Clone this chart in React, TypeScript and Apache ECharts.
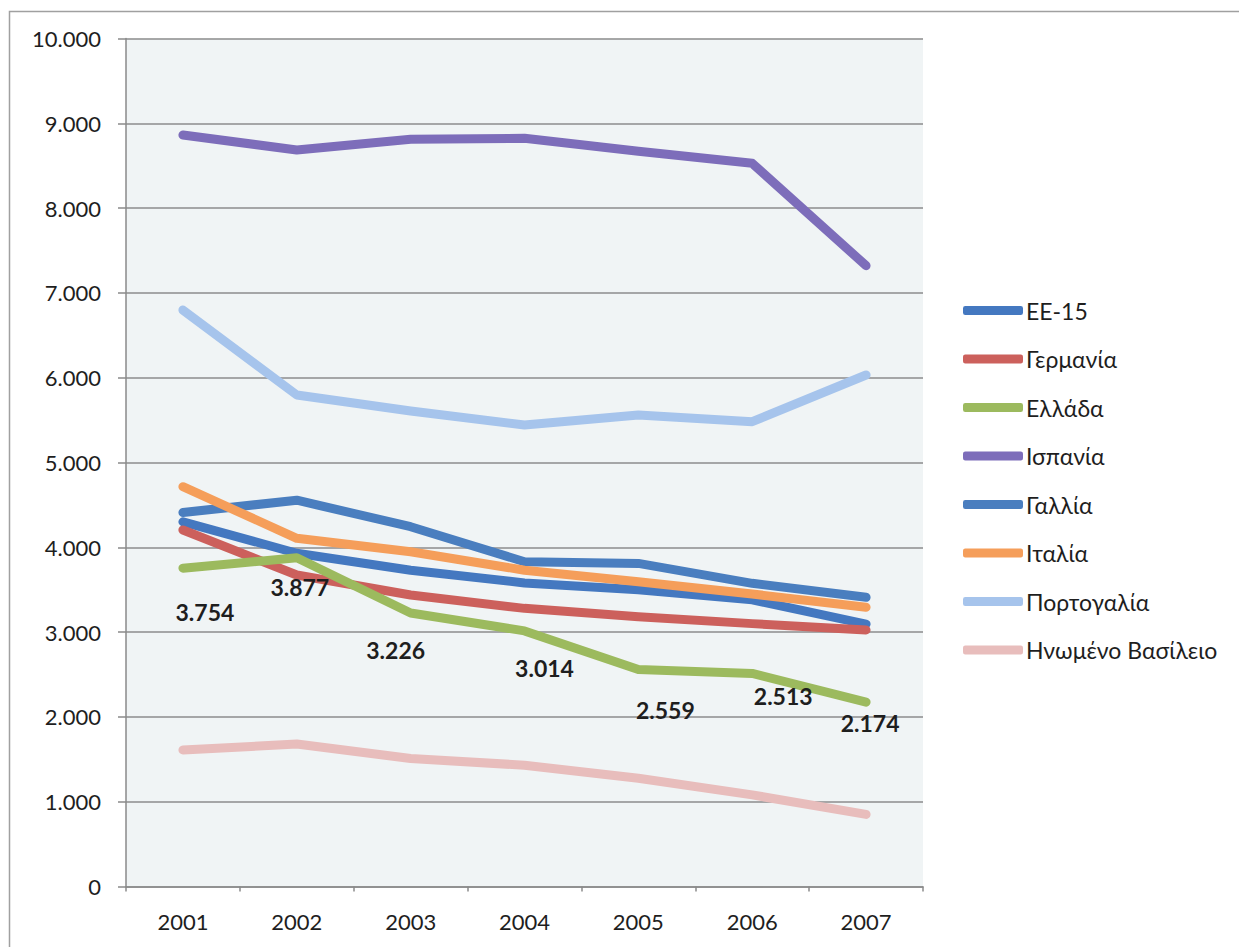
import React, { useEffect, useRef } from "react";
import * as echarts from "echarts";

const years = ["2001", "2002", "2003", "2004", "2005", "2006", "2007"];
const seriesNames = ["ΕΕ-15", "Γερμανία", "Ελλάδα", "Ισπανία", "Γαλλία", "Ιταλία", "Πορτογαλία", "Ηνωμένο Βασίλειο"];
const ee15 = [4300, 3930, 3730, 3580, 3500, 3380, 3095];
const germany = [4204, 3673, 3437, 3280, 3180, 3100, 3025];
const greece = [3754, 3877, 3226, 3014, 2559, 2513, 2174];
const spain = [8862, 8685, 8811, 8823, 8670, 8528, 7321];
const france = [4410, 4555, 4243, 3830, 3810, 3575, 3410];
const italy = [4715, 4106, 3948, 3730, 3594, 3449, 3292];
const portugal = [6798, 5796, 5607, 5442, 5560, 5481, 6032];
const uk = [1610, 1680, 1510, 1430, 1276, 1080, 850];
const yTicks = [0, 1000, 2000, 3000, 4000, 5000, 6000, 7000, 8000, 9000, 10000];

const seriesValues = [ee15, germany, greece, spain, france, italy, portugal, uk];
const seriesColors = ["#4478C0", "#CC605C", "#9CBA5E", "#7D6DBA", "#4A7EBF", "#F59E5A", "#A6C4EC", "#E8BDBC"];
const greeceLabelOffsets = [[22, 44], [3, 29], [-15, 37], [20, 37], [27, 41], [31, 23], [4, 21]];

const fmt = (v: number) => {
  if (v === 0) return "0";
  const s = String(Math.round(v));
  return s.replace(/\B(?=(\d{3})+(?!\d))/g, ".");
};

export default function App() {
  const ref = useRef<HTMLDivElement>(null);
  useEffect(() => {
    if (!ref.current) return;
    const chart = echarts.init(ref.current, null, { renderer: "svg" });
    const font = "Lato, 'Open Sans', sans-serif";
    const series = seriesNames.map((name, i) => {
      const isGreece = name === "Ελλάδα";
      return {
        name,
        type: "line",
        data: seriesValues[i].map((v, j) =>
          isGreece ? { value: v, label: { offset: greeceLabelOffsets[j] } } : v
        ),
        symbol: "circle",
        symbolSize: 1,
        showSymbol: true,
        itemStyle: { color: seriesColors[i] },
        lineStyle: { width: 9, color: seriesColors[i], cap: "round", join: "round" },
        label: isGreece
          ? {
              show: true,
              position: "inside",
              formatter: (p: any) => fmt(p.value),
              fontFamily: font,
              fontWeight: "bold",
              fontSize: 23,
              color: "#1e1e1e",
            }
          : { show: false },
        emphasis: { disabled: true },
        z: 2 + i,
      };
    });
    chart.setOption({
      animation: false,
      backgroundColor: "#ffffff",
      textStyle: { fontFamily: font },
      grid: {
        left: 126,
        right: 316,
        top: 38.5,
        bottom: 60.5,
        show: true,
        backgroundColor: "#F0F4F5",
        borderWidth: 0,
      },
      xAxis: {
        type: "category",
        data: years,
        boundaryGap: true,
        axisLine: { show: true, lineStyle: { color: "#8a8a8a", width: 1.5 } },
        axisTick: { show: true, length: 5, interval: 0, lineStyle: { color: "#8a8a8a", width: 1.5 } },
        axisLabel: { fontSize: 22, color: "#1e1e1e", margin: 24, fontFamily: font },
        splitLine: { show: false },
      },
      yAxis: {
        type: "value",
        min: yTicks[0],
        max: yTicks[yTicks.length - 1],
        interval: 1000,
        axisLine: { show: true, lineStyle: { color: "#8a8a8a", width: 1.5 } },
        axisTick: { show: true, length: 8, lineStyle: { color: "#8a8a8a", width: 1.5 } },
        axisLabel: { fontSize: 22, color: "#1e1e1e", margin: 25, fontFamily: font, formatter: (v: number) => fmt(v) },
        splitLine: { show: true, lineStyle: { color: "#8c8c8c", width: 1.5 } },
      },
      legend: {
        orient: "vertical",
        left: 958,
        top: 294,
        icon: "roundRect",
        itemWidth: 60,
        itemHeight: 9,
        itemGap: 25.5,
        textStyle: { fontSize: 23, color: "#1e1e1e", fontFamily: font, padding: [0, 0, 0, -2] },
        data: seriesNames,
        selectedMode: false,
      },
      graphic: [
        {
          type: "rect",
          shape: { x: 9.5, y: 11.5, width: 1300, height: 1000 },
          style: { fill: "none", stroke: "#a0a0a0", lineWidth: 1.5 },
          silent: true,
        },
      ],
      series,
    });
    return () => chart.dispose();
  }, []);
  return <div ref={ref} style={{ position: "absolute", left: 0, top: 0, width: 1239, height: 947 }} />;
}
